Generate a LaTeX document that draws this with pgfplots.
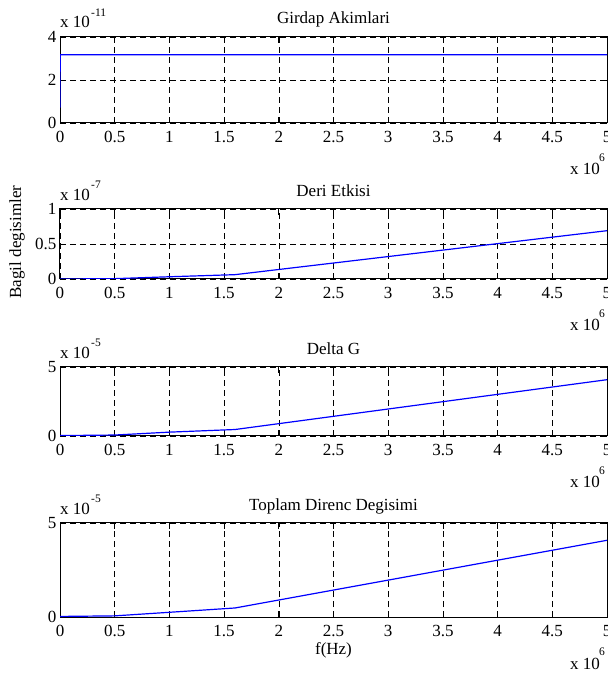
\documentclass[border=0pt]{standalone}
\usepackage{fontspec}
\setmainfont{Liberation Serif}
\usepackage{pgfplots}
\pgfplotsset{compat=1.18}

\newcommand{\tfont}{\fontsize{17}{20}\selectfont}
\newcommand{\supfont}{\fontsize{11.5}{13}\selectfont}

\pgfplotsset{
  panel/.style={
    scale only axis, width=547pt, anchor=south west,
    xmin=0, xmax=5,
    xtick={0,0.5,1,1.5,2,2.5,3,3.5,4,4.5,5},
    xticklabels={0,0.5,1,1.5,2,2.5,3,3.5,4,4.5,5},
    tick label style={font=\tfont},
    xticklabel style={yshift=-5pt},
    grid=major,
    major grid style={black, line width=0.6pt, dash pattern=on 6pt off 4pt},
    tick align=inside, major tick length=6pt,
    tick style={black, line width=0.8pt},
    axis line style={black, line width=1pt},
    cycle list={{blue, mark=none}},
    no markers,
    every axis plot post/.append style={line width=1.2pt},
  }
}

\begin{document}
\begin{tikzpicture}

% Girdap Akimlari (x 1e6 Hz, y x 1e-11)
\begin{axis}[panel, at={(60pt,550pt)}, height=86pt,
  ymin=0, ymax=4, ytick={0,2,4}, yticklabels={0,2,4}]
\addplot coordinates {(0,0.72) (0.002,3.17) (5,3.17)};
\end{axis}

% Deri Etkisi (y x 1e-7)
\begin{axis}[panel, at={(60pt,394pt)}, height=70pt,
  ymin=0, ymax=1, ytick={0,0.5,1}, yticklabels={0,0.5,1}]
\addplot coordinates {(0,0) (0.5,0.005) (1,0.032) (1.6,0.062) (5,0.69)};
\end{axis}

% Delta G (y x 1e-5)
\begin{axis}[panel, at={(60pt,237pt)}, height=69pt,
  ymin=0, ymax=5, ytick={0,5}, yticklabels={0,5}]
\addplot coordinates {(0,0.03) (0.5,0.07) (1,0.28) (1.6,0.47) (5,4.08)};
\end{axis}

% Toplam Direnc Degisimi (y x 1e-5)
\begin{axis}[panel, at={(60pt,56pt)}, height=94pt,
  ymin=0, ymax=5, ytick={0,5}, yticklabels={0,5}]
\addplot coordinates {(0,0.03) (0.5,0.06) (1,0.25) (1.6,0.48) (5,4.08)};
\end{axis}

% titles
\node[font=\tfont, anchor=base] at (333.5pt,649pt) {Girdap Akimlari};
\node[font=\tfont, anchor=base] at (333.5pt,476pt) {Deri Etkisi};
\node[font=\tfont, anchor=base] at (333.5pt,318pt) {Delta G};
\node[font=\tfont, anchor=base] at (333.5pt,162pt) {Toplam Direnc Degisimi};

% y exponents
\foreach \yb/\ys/\ex in {645/660/-11, 472/488/-7, 314/330/-5, 158/174/-5}{
  \node[font=\tfont, anchor=base west, inner sep=0] at (60pt,\yb pt) {x 10};
  \node[font=\supfont, anchor=west, inner sep=0] at (91pt,\ys pt) {\ex};
}
% x exponents
\foreach \yb/\ys in {498/515, 342/359, 185/202, 4/21}{
  \node[font=\tfont, anchor=base west, inner sep=0] at (570pt,\yb pt) {x 10};
  \node[font=\supfont, anchor=center, inner sep=0] at (602pt,\ys pt) {6};
}

\node[font=\tfont, anchor=base] at (333.5pt,19pt) {f(Hz)};
\node[font=\tfont, anchor=base, rotate=90] at (21pt,431pt) {Bagil degisimler};

\pgfresetboundingbox
\path (0pt,0pt) rectangle (608pt,673pt);
\end{tikzpicture}
\end{document}
